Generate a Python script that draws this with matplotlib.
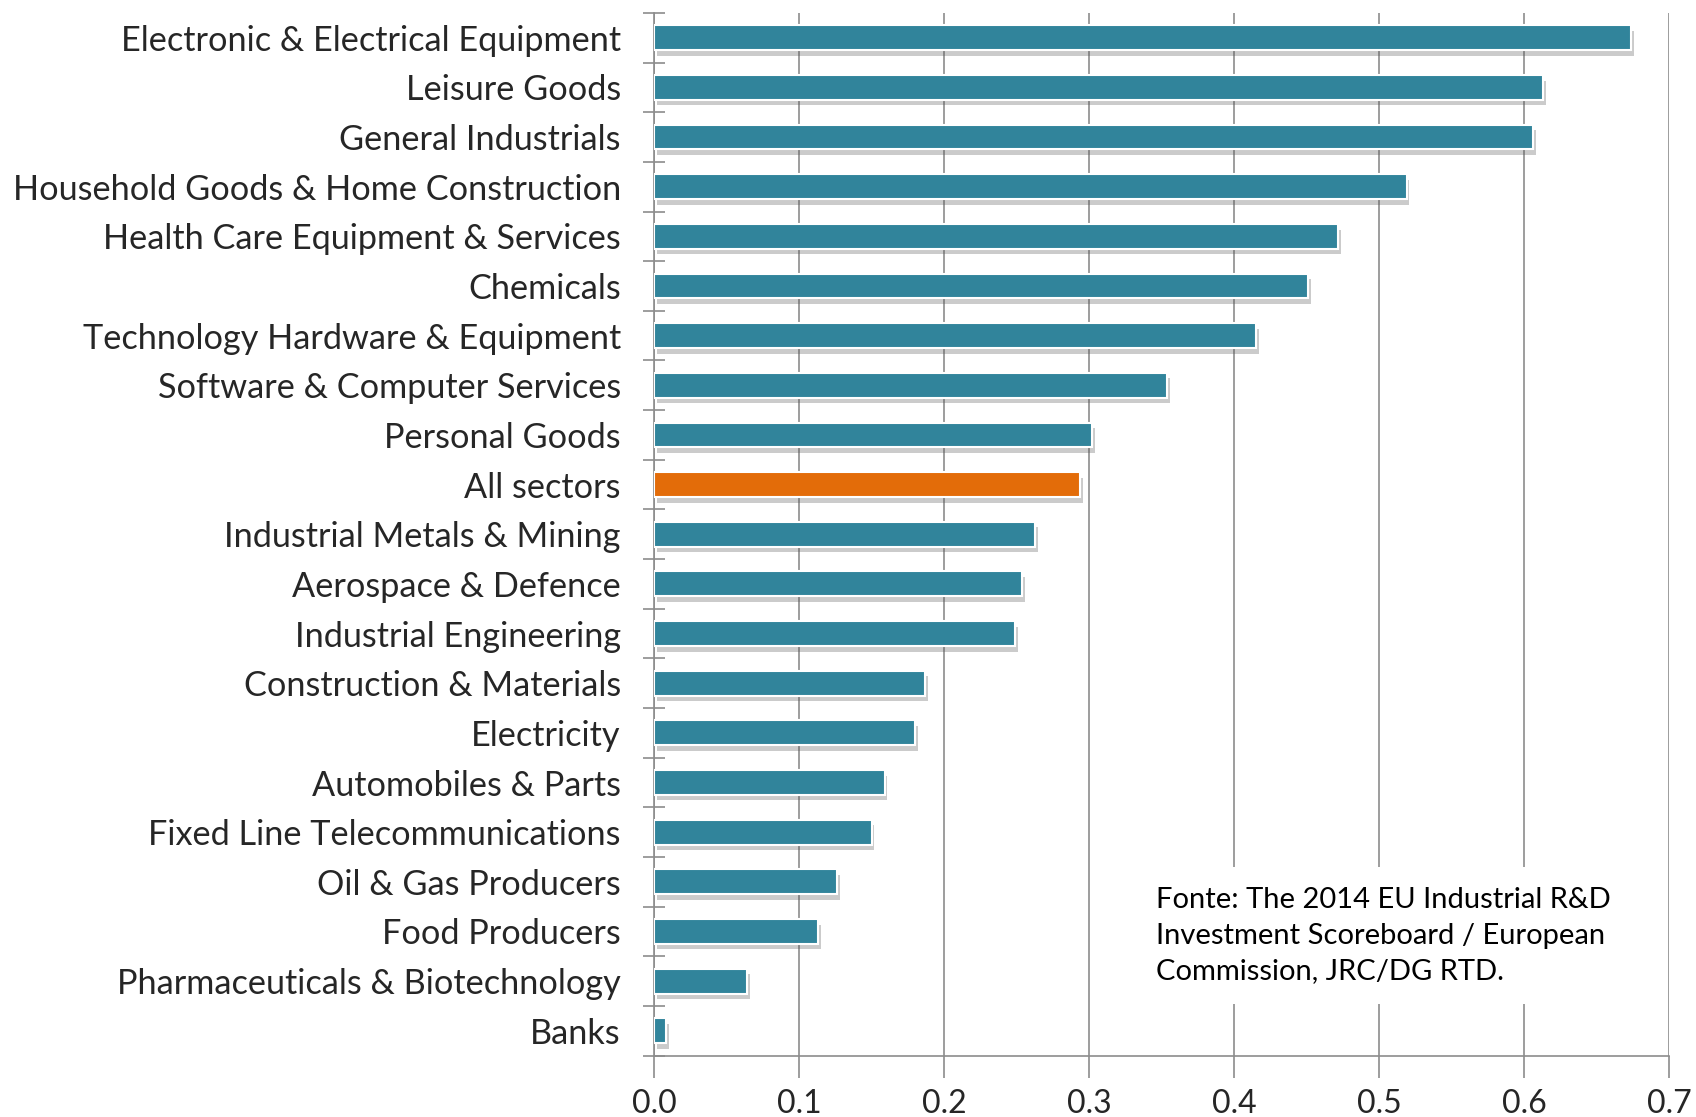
import matplotlib
matplotlib.use("Agg")
import matplotlib.pyplot as plt
import matplotlib.patheffects as pe
import numpy as np

plt.rcParams['font.family'] = ['Lato', 'DejaVu Sans']

sectors = [
    "Electronic & Electrical Equipment",
    "Leisure Goods",
    "General Industrials",
    "Household Goods & Home Construction",
    "Health Care Equipment & Services",
    "Chemicals",
    "Technology Hardware & Equipment",
    "Software & Computer Services",
    "Personal Goods",
    "All sectors",
    "Industrial Metals & Mining",
    "Aerospace & Defence",
    "Industrial Engineering",
    "Construction & Materials",
    "Electricity",
    "Automobiles & Parts",
    "Fixed Line Telecommunications",
    "Oil & Gas Producers",
    "Food Producers",
    "Pharmaceuticals & Biotechnology",
    "Banks",
]
values = [0.674, 0.613, 0.606, 0.519, 0.472, 0.451, 0.415, 0.354, 0.302, 0.294,
          0.263, 0.254, 0.249, 0.187, 0.180, 0.159, 0.150, 0.126, 0.113, 0.064, 0.008]
highlight = "All sectors"
x_ticks = [0.0, 0.1, 0.2, 0.3, 0.4, 0.5, 0.6, 0.7]
source_text = ("Fonte: The 2014 EU Industrial R&D\n"
               "Investment Scoreboard / European\n"
               "Commission, JRC/DG RTD.")

TEAL   = "#31849B"
ORANGE = "#E36C09"
GRID   = "#8C8C8C"

fig = plt.figure(figsize=(16.96, 11.17), dpi=100)
ax = fig.add_axes([0.3857, 0.055, 0.5984, 0.9334])

y = np.arange(len(sectors))
colors = [ORANGE if s == highlight else TEAL for s in sectors]
bars = ax.barh(y, values, height=0.5, color=colors, edgecolor="white",
               linewidth=1.5, zorder=3)
for b in bars:
    b.set_path_effects([pe.SimplePatchShadow(offset=(2, -4), shadow_rgbFace="#555555", alpha=0.3),
                        pe.Normal()])

ax.set_ylim(len(sectors) - 0.5, -0.5)
ax.set_xlim(0, 0.7)

# y ticks: labels at centers, tick marks at boundaries
ax.set_yticks(y)
ax.set_yticklabels(sectors, fontsize=24.7, color="#262626")
ax.tick_params(axis="y", which="major", length=0, pad=24)
ax.set_yticks(np.arange(-0.5, len(sectors)), minor=True)
ax.tick_params(axis="y", which="minor", direction="inout", length=16, width=1.2, color=GRID)

ax.set_xticks(x_ticks)
ax.set_xticklabels([f"{t:.1f}" for t in x_ticks], fontsize=23, color="#262626")
ax.tick_params(axis="x", length=16, width=1.2, color=GRID, pad=8)

ax.grid(axis="x", color=GRID, linewidth=1.2, zorder=0)
ax.set_axisbelow(True)

for side in ["top", "right"]:
    ax.spines[side].set_visible(False)
for side in ["left", "bottom"]:
    ax.spines[side].set_color(GRID)
    ax.spines[side].set_linewidth(1.2)

ax.text(0.4946, 0.162, source_text, transform=ax.transAxes, ha="left", va="top",
        fontsize=21, linespacing=1.47, color="black", zorder=5,
        bbox=dict(facecolor="white", edgecolor="none", pad=14))

fig.savefig("out.png", dpi=100)
